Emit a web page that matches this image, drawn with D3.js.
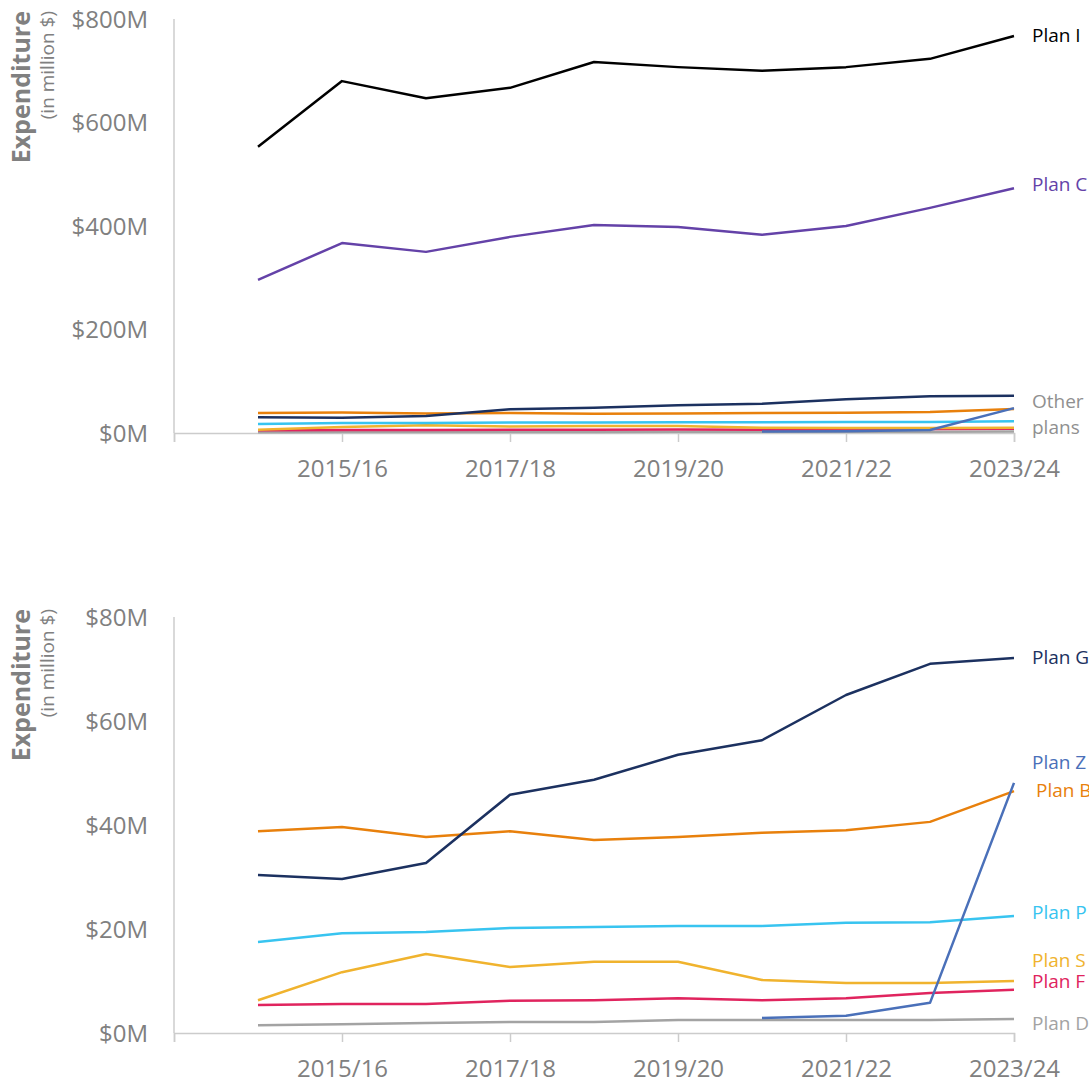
<!DOCTYPE html>
<html>
<head>
<meta charset="utf-8">
<script src="https://cdn.jsdelivr.net/npm/d3@7"></script>
<style>
  body { margin: 0; background: #fff; font-family: "Open Sans", "Noto Sans", sans-serif; }
</style>
</head>
<body>
<div id="chart"></div>
<script>
// Years (financial years)
const years = ['2014/15', '2015/16', '2016/17', '2017/18', '2018/19', '2019/20', '2020/21', '2021/22', '2022/23', '2023/24'];
const xTickLabels = ['2015/16', '2017/18', '2019/20', '2021/22', '2023/24'];

// Expenditure in million $
const planI = [553, 680, 647, 667, 717, 707, 700, 707, 723, 767];
const planC = [296, 367, 350, 379, 402, 398, 383, 400, 435, 473];
const planG = [30.4, 29.6, 32.7, 45.8, 48.7, 53.5, 56.3, 65.0, 71.0, 72.1];
const planB = [38.8, 39.6, 37.7, 38.8, 37.1, 37.7, 38.5, 39.0, 40.6, 46.5];
const planP = [17.5, 19.2, 19.4, 20.2, 20.4, 20.6, 20.6, 21.2, 21.3, 22.5];
const planS = [6.3, 11.7, 15.2, 12.7, 13.7, 13.7, 10.2, 9.6, 9.6, 10.0];
const planF = [5.4, 5.6, 5.6, 6.2, 6.3, 6.7, 6.3, 6.7, 7.7, 8.3];
const planD = [1.5, 1.7, 1.9, 2.1, 2.1, 2.5, 2.5, 2.5, 2.5, 2.7];
const planZ = [null, null, null, null, null, null, 2.9, 3.3, 5.8, 48.1];

const topTicks = [0, 200, 400, 600, 800];
const bottomTicks = [0, 20, 40, 60, 80];

const colors = {
  I: '#000000', C: '#6442a8', G: '#1c3160', B: '#e8800c', P: '#38c4f0',
  S: '#f0b32e', F: '#e0245e', D: '#a3a3a3', Z: '#4a70b9'
};

const small = [
  { name: 'Plan D', key: 'D', values: planD },
  { name: 'Plan F', key: 'F', values: planF },
  { name: 'Plan S', key: 'S', values: planS },
  { name: 'Plan P', key: 'P', values: planP },
  { name: 'Plan B', key: 'B', values: planB },
  { name: 'Plan G', key: 'G', values: planG },
  { name: 'Plan Z', key: 'Z', values: planZ }
];
const big = [
  { name: 'Plan C', key: 'C', values: planC },
  { name: 'Plan I', key: 'I', values: planI }
];

const svg = d3.select('#chart').append('svg')
  .attr('width', 1089).attr('height', 1082);

// x: index -1 .. 9 (axis starts one step before the first year)
const x = d3.scaleLinear().domain([-1, 9]).range([174, 1014]);

function drawPanel(opts) {
  const y = d3.scaleLinear().domain([0, opts.max]).range([opts.bottom, opts.top]);
  const g = svg.append('g');

  // y axis line
  g.append('line')
    .attr('x1', x(-1)).attr('x2', x(-1))
    .attr('y1', opts.top).attr('y2', opts.bottom)
    .attr('stroke', '#cccccc').attr('stroke-width', 1.5);

  // y tick labels
  g.selectAll('.ylab').data(opts.ticks).enter().append('text')
    .attr('x', 148).attr('y', d => y(d))
    .attr('dy', '0.36em')
    .attr('text-anchor', 'end')
    .attr('fill', '#808080')
    .style('font-size', '24px')
    .text(d => '$' + d + 'M');

  // x axis
  const xAxis = d3.axisBottom(x)
    .tickValues([-1, 1, 3, 5, 7, 9])
    .tickSize(9)
    .tickFormat(d => d < 0 ? '' : years[d]);
  const ax = g.append('g')
    .attr('transform', `translate(0,${opts.bottom})`)
    .call(xAxis);
  ax.select('.domain').attr('stroke', '#cccccc').attr('stroke-width', 1.5);
  ax.selectAll('.tick line').attr('stroke', '#cccccc').attr('stroke-width', 1.5);
  ax.selectAll('.tick text')
    .attr('y', 27)
    .style('font-size', '24px')
    .style('font-family', '"Open Sans", sans-serif')
    .attr('fill', '#808080');

  // axis title
  g.append('text')
    .attr('transform', `translate(30,${opts.top - 8}) rotate(-90)`)
    .attr('text-anchor', 'end')
    .attr('fill', '#808080')
    .style('font-size', '25px')
    .style('font-weight', 'bold')
    .text('Expenditure');
  g.append('text')
    .attr('transform', `translate(54,${opts.top - 8}) rotate(-90)`)
    .attr('text-anchor', 'end')
    .attr('fill', '#808080')
    .style('font-size', '19px')
    .text('(in million $)');

  const line = d3.line()
    .defined(d => d != null)
    .x((d, i) => x(i))
    .y(d => y(d));

  opts.series.forEach(s => {
    g.append('path')
      .datum(s.values)
      .attr('d', line)
      .attr('fill', 'none')
      .attr('stroke', colors[s.key])
      .attr('stroke-width', 2.5)
      .attr('stroke-linejoin', 'round');
  });

  opts.labels.forEach(l => {
    g.append('text')
      .attr('x', l.x).attr('y', l.y)
      .attr('dy', '0.35em')
      .attr('fill', l.color)
      .style('font-size', '19px')
      .text(l.text);
  });
}

drawPanel({
  top: 19, bottom: 433, max: 800, ticks: topTicks,
  series: small.concat(big),
  labels: [
    { text: 'Plan I', x: 1032, y: 35, color: colors.I },
    { text: 'Plan C', x: 1032, y: 184, color: colors.C },
    { text: 'Other', x: 1032, y: 401, color: '#909090' },
    { text: 'plans', x: 1032, y: 427, color: '#909090' }
  ]
});

drawPanel({
  top: 617, bottom: 1033, max: 80, ticks: bottomTicks,
  series: small,
  labels: [
    { text: 'Plan G', x: 1032, y: 657, color: colors.G },
    { text: 'Plan Z', x: 1032, y: 762, color: colors.Z },
    { text: 'Plan B', x: 1036, y: 790, color: colors.B },
    { text: 'Plan P', x: 1032, y: 912, color: colors.P },
    { text: 'Plan S', x: 1032, y: 960, color: colors.S },
    { text: 'Plan F', x: 1032, y: 981, color: colors.F },
    { text: 'Plan D', x: 1032, y: 1023, color: colors.D }
  ]
});
</script>
</body>
</html>
